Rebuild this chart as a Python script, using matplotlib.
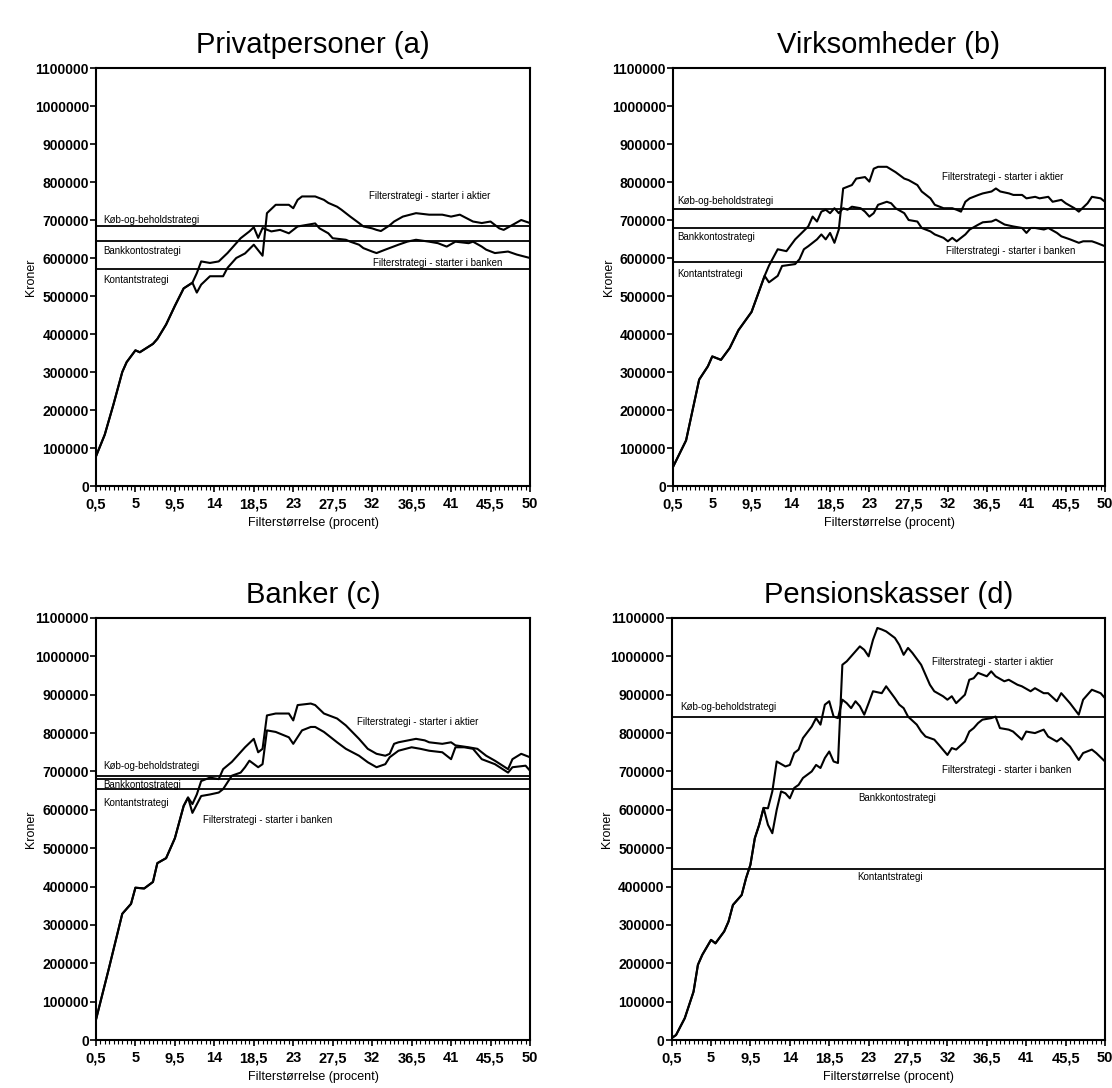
import numpy as np
import matplotlib
matplotlib.use("Agg")
import matplotlib.pyplot as plt
from matplotlib.ticker import FixedLocator, MultipleLocator, FuncFormatter

plt.rcParams['font.family'] = ['Liberation Sans', 'DejaVu Sans']

# values in 1000 kroner, x = filterstørrelse in procent
# --- Privatpersoner (a)
a_x_start = [0.5, 1.5, 2.5, 3.5, 4, 5, 5.5, 7, 7.5, 8.5, 9.5, 10.5, 11.5]
a_y_start = [78, 135, 215, 300, 326, 357, 352, 374, 387, 425, 474, 520, 535]
a_x_aktier = [12, 12.5, 13.5, 15, 15.5, 16.5, 17.5, 18.5, 19.5, 20,
              21, 22.5, 23, 23.5, 24, 25.5, 26.5, 27, 28, 28.5,
              29.5, 30.5, 31, 32, 32.5, 33, 34, 34.5, 35.5, 37,
              38.5, 40, 41, 42, 43.5, 44.5, 45.5, 46.5, 47, 48, 49, 50]
a_y_aktier = [509, 530, 552, 552, 574, 600, 612, 635, 606, 718,
              740, 740, 731, 753, 762, 762, 753, 745, 735, 727,
              709, 692, 683, 678, 674, 671, 686, 696, 709, 718,
              714, 714, 709, 714, 696, 692, 696, 678, 674, 687, 700, 692]
a_x_banken = [12, 12.5, 13.5, 14.5, 15.5, 16.5, 17, 18, 18.5, 19,
              19.5, 20.5, 21.5, 22.5, 23.5, 24.5, 25.5, 26, 27, 27.5,
              29, 29.5, 30.5, 31, 32, 32.5, 33.5, 35, 36, 37,
              38.5, 39.5, 40.5, 41.5, 43, 43.5, 44.5, 45, 46, 47.5, 48.5, 50]
a_y_banken = [560, 591, 587, 591, 613, 639, 652, 670, 681, 653,
              679, 670, 674, 665, 683, 687, 691, 678, 665, 652,
              648, 643, 635, 626, 617, 613, 622, 635, 643, 648,
              643, 639, 630, 643, 639, 643, 630, 622, 613, 617, 609, 600]
a_levels = [683, 646, 571]  # køb-og-behold, bankkonto, kontant

# --- Virksomheder (b)
b_x_start = [0.5, 2, 3.5, 4.5, 5, 6, 7, 8, 9.5, 11]
b_y_start = [50, 120, 280, 315, 341, 332, 363, 410, 458, 553]
b_x_aktier = [11.5, 12.5, 13, 14.5, 15, 15.5, 16, 17, 17.5, 18,
              18.5, 19, 19.5, 20, 21, 21.5, 22.5, 23, 23.5, 24,
              25, 26, 27, 27.5, 28.5, 29, 30, 30.5, 31.5, 32.5,
              33, 33.5, 34, 34.5, 35.5, 36, 37, 37.5, 38, 39,
              39.5, 40.5, 41, 42, 42.5, 43.5, 44, 45, 45.5, 46.5,
              47, 48, 48.5, 49.5, 50]
b_y_aktier = [536, 553, 579, 584, 597, 623, 631, 649, 662, 649,
              666, 640, 675, 783, 792, 809, 813, 801, 835, 840,
              840, 826, 809, 805, 792, 775, 757, 740, 731, 731,
              727, 722, 748, 757, 766, 770, 775, 783, 775, 770,
              766, 766, 757, 761, 757, 761, 748, 753, 744, 731,
              722, 744, 761, 757, 748]
b_x_banken = [11.5, 12.5, 13.5, 14.5, 16, 16.5, 17, 17.5, 18, 18.5,
              19, 19.5, 20, 20.5, 21, 22, 22.5, 23, 23.5, 24,
              25, 25.5, 26, 27, 27.5, 28.5, 29, 30, 30.5, 31.5,
              32, 32.5, 33, 34, 34.5, 35.5, 36, 37, 37.5, 38.5,
              39.5, 40.5, 41, 41.5, 42, 43, 43.5, 44.5, 45, 46,
              47, 47.5, 48.5, 49, 50]
b_y_banken = [580, 623, 618, 649, 683, 709, 696, 722, 727, 718,
              731, 718, 731, 727, 735, 731, 722, 709, 718, 740,
              748, 744, 731, 718, 700, 696, 679, 670, 662, 653,
              644, 653, 644, 662, 675, 688, 694, 696, 701, 688,
              683, 679, 666, 679, 679, 675, 679, 666, 657, 649,
              640, 644, 644, 640, 631]
b_levels = [730, 679, 590]

# --- Banker (c)
c_x_start = [0.5, 2, 3.5, 4.5, 5, 6, 7, 7.5, 8.5, 9.5, 10.5, 11]
c_y_start = [53, 189, 329, 355, 397, 395, 412, 461, 474, 526, 610, 632]
c_x_aktier = [11.5, 12, 12.5, 13.5, 14.5, 15, 16, 17.5, 18.5, 19,
              19.5, 20, 21, 22.5, 23, 23.5, 25, 25.5, 26.5, 28,
              29, 30.5, 31.5, 32.5, 33.5, 34, 34.5, 35, 37, 38,
              38.5, 40, 41, 41.5, 43, 44, 45, 46, 47.5, 48, 49, 50]
c_y_aktier = [615, 640, 675, 684, 680, 706, 725, 763, 785, 750,
              759, 846, 851, 851, 833, 873, 877, 873, 851, 838,
              820, 785, 759, 746, 741, 746, 772, 776, 785, 781,
              776, 772, 776, 768, 763, 759, 741, 728, 706, 732, 746, 737]
c_x_banken = [11.5, 12.5, 13.5, 14.5, 15, 16, 17, 17.5, 18, 19,
              19.5, 20, 21, 22.5, 23, 24, 25, 25.5, 26.5, 28,
              29, 30.5, 31.5, 32.5, 33.5, 34, 35, 36.5, 37.5, 38.5,
              40, 41, 41.5, 42.5, 43.5, 44.5, 46, 47.5, 48, 49.5, 50]
c_y_banken = [592, 636, 640, 645, 654, 689, 697, 711, 728, 711,
              719, 807, 803, 789, 772, 807, 816, 816, 803, 776,
              759, 741, 724, 711, 719, 737, 754, 763, 759, 754,
              750, 732, 763, 763, 759, 732, 719, 697, 711, 715, 702]
c_levels = [687, 681, 653]

# --- Pensionskasser (d)
d_x_start = [0.5, 1, 2, 3, 3.5, 4, 5, 5.5, 6.5, 7, 7.5, 8.5, 9, 9.5, 10, 10.5, 11]
d_y_start = [5, 13, 57, 126, 196, 222, 261, 252, 283, 309, 352, 378, 422, 457, 526, 561, 605]
d_x_aktier = [11.5, 12, 12.5, 13, 13.5, 14, 14.5, 15, 15.5, 16.5,
              17, 17.5, 18, 18.5, 19, 19.5, 20, 20.5, 21, 22,
              22.5, 23, 23.5, 24, 24.5, 25, 26, 26.5, 27, 27.5,
              28, 29, 29.5, 30, 30.5, 31.5, 32, 32.5, 33, 34,
              34.5, 35, 35.5, 36.5, 37, 37.5, 38.5, 39, 40, 40.5,
              41.5, 42, 43, 43.5, 44.5, 45, 46, 47, 47.5, 48.5, 49.5, 50]
d_y_aktier = [561, 539, 600, 648, 643, 630, 657, 665, 683, 700,
              717, 709, 735, 752, 726, 722, 978, 987, 1000, 1026,
              1017, 1000, 1043, 1074, 1070, 1065, 1048, 1030, 1004, 1022,
              1009, 978, 952, 926, 909, 896, 887, 896, 878, 900,
              939, 943, 957, 948, 961, 948, 935, 939, 926, 922,
              909, 917, 904, 904, 883, 904, 878, 848, 887, 913, 904, 891]
d_x_banken = [11.5, 12, 12.5, 13.5, 14, 14.5, 15, 15.5, 16.5, 17,
              17.5, 18, 18.5, 19, 19.5, 20, 20.5, 21, 21.5, 22,
              22.5, 23, 23.5, 24.5, 25, 26, 26.5, 27, 27.5, 28.5,
              29, 29.5, 30.5, 31, 32, 32.5, 33, 34, 34.5, 35,
              35.5, 36, 37, 37.5, 38, 39, 39.5, 40.5, 41, 42,
              43, 43.5, 44.5, 45, 46, 47, 47.5, 48.5, 49, 50]
d_y_banken = [604, 648, 726, 713, 717, 748, 757, 787, 817, 839,
              822, 874, 883, 843, 839, 887, 878, 865, 883, 870,
              848, 878, 909, 904, 922, 891, 874, 865, 843, 822,
              804, 791, 783, 770, 743, 761, 757, 778, 804, 813,
              826, 835, 839, 843, 813, 809, 804, 783, 804, 800,
              809, 791, 778, 787, 765, 730, 748, 757, 748, 726]
d_levels = [843, 655, 446]

level_names = ["Køb-og-beholdstrategi", "Bankkontostrategi", "Kontantstrategi"]
akt_name = "Filterstrategi - starter i aktier"
bank_name = "Filterstrategi - starter i banken"


def draw_panel(ax, title, xs, ys, xa, ya, xb, yb, levels, labels):
    '''One panel: two filter curves plus three flat strategies.'''
    ax.plot(xs + xa, np.array(ys + ya) * 1000, color='black', lw=1.5)
    ax.plot(xs + xb, np.array(ys + yb) * 1000, color='black', lw=1.5)
    for lev in levels:
        ax.axhline(lev * 1000, color='black', lw=1.3)
    for (tx, ty, txt, ha) in labels:
        ax.text(tx, ty * 1000, txt, fontsize=7, ha=ha, va='center')
    ax.set_xlim(0.5, 50)
    ax.set_ylim(0, 1100000)
    ax.xaxis.set_major_locator(FixedLocator(np.arange(0.5, 50.1, 4.5)))
    ax.xaxis.set_minor_locator(MultipleLocator(0.5))
    ax.xaxis.set_major_formatter(FuncFormatter(lambda v, p: ('%g' % v).replace('.', ',')))
    ax.yaxis.set_major_locator(MultipleLocator(100000))
    ax.yaxis.set_major_formatter(FuncFormatter(lambda v, p: '%d' % v))
    ax.tick_params(axis='y', which='major', direction='out', length=4,
                   width=1.2, labelsize=10, pad=1)
    ax.tick_params(axis='x', which='major', direction='out', length=4,
                   width=1.2, labelsize=10.5, pad=4)
    ax.tick_params(axis='x', which='minor', direction='out', length=3, width=0.8)
    for lab in ax.get_xticklabels() + ax.get_yticklabels():
        lab.set_fontweight('bold')
    for sp in ax.spines.values():
        sp.set_linewidth(1.5)
    ax.set_title(title, fontsize=21, pad=11)
    ax.set_xlabel("Filterstørrelse (procent)", fontsize=9, labelpad=4)
    ax.set_ylabel("Kroner", fontsize=9)
    ax.yaxis.set_label_coords(-0.135, 0.5)


fig = plt.figure(figsize=(11.12, 10.88), dpi=100)
ax_a = fig.add_axes([0.0863, 0.5533, 0.3903, 0.3842])
ax_b = fig.add_axes([0.6052, 0.5533, 0.3885, 0.3842])
ax_c = fig.add_axes([0.0863, 0.0441, 0.3903, 0.3879])
ax_d = fig.add_axes([0.6040, 0.0441, 0.3897, 0.3879])

draw_panel(ax_a, "Privatpersoner (a)", a_x_start, a_y_start,
           a_x_aktier, a_y_aktier, a_x_banken, a_y_banken, a_levels,
           [(1.3, 700, level_names[0], 'left'), (1.3, 619, level_names[1], 'left'),
            (1.3, 542, level_names[2], 'left'), (31.6, 762, akt_name, 'left'),
            (32.1, 587, bank_name, 'left')])
draw_panel(ax_b, "Virksomheder (b)", b_x_start, b_y_start,
           b_x_aktier, b_y_aktier, b_x_banken, b_y_banken, b_levels,
           [(1.0, 749, level_names[0], 'left'), (1.0, 656, level_names[1], 'left'),
            (1.0, 558, level_names[2], 'left'), (31.3, 814, akt_name, 'left'),
            (31.8, 619, bank_name, 'left')])
draw_panel(ax_c, "Banker (c)", c_x_start, c_y_start,
           c_x_aktier, c_y_aktier, c_x_banken, c_y_banken, c_levels,
           [(1.3, 713, level_names[0], 'left'), (1.3, 664, level_names[1], 'left'),
            (1.3, 618, level_names[2], 'left'), (30.3, 829, akt_name, 'left'),
            (12.7, 573, bank_name, 'left')])
draw_panel(ax_d, "Pensionskasser (d)", d_x_start, d_y_start,
           d_x_aktier, d_y_aktier, d_x_banken, d_y_banken, d_levels,
           [(1.5, 868, level_names[0], 'left'), (26.2, 630, level_names[1], 'center'),
            (25.4, 424, level_names[2], 'center'), (30.2, 984, akt_name, 'left'),
            (31.4, 704, bank_name, 'left')])

fig.savefig("out.png", dpi=100)
